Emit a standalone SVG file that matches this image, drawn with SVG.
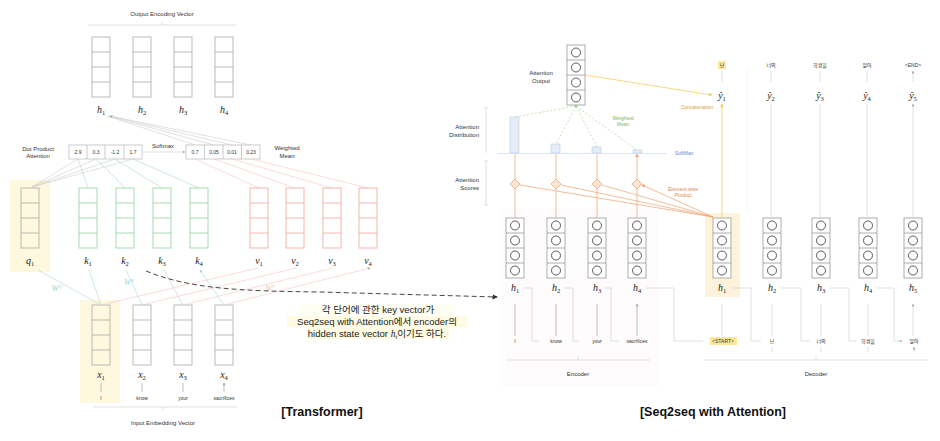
<svg xmlns="http://www.w3.org/2000/svg" xmlns:xlink="http://www.w3.org/1999/xlink" width="940" height="441" viewBox="0 0 940 441">
<style>
text{font-family:"Liberation Sans","Noto Sans CJK KR",sans-serif;fill:#333}
.s{font-size:6px}
.xs{font-size:5px}
.m{font-family:"Liberation Serif","DejaVu Serif",serif;font-style:italic;font-size:10px;fill:#222}
.sub{font-size:6.5px;font-style:normal}
.gray{stroke:#aaa;fill:none;stroke-width:0.8}
.green{stroke:#8fd19e;fill:none;stroke-width:0.8}
.red{stroke:#f2a49a;fill:none;stroke-width:0.8}
.ln{stroke:#ccc;stroke-width:0.6;fill:none}
.teal{stroke:#a9d9d4;stroke-width:0.6;fill:none}
.pink{stroke:#f5c6bf;stroke-width:0.6;fill:none}
.or{stroke:#f0a070;stroke-width:0.7;fill:none}
.yel{stroke:#f0d060;stroke-width:0.8;fill:none}
.gd{stroke:#9ccf8a;stroke-width:0.6;stroke-dasharray:2 2;fill:none}
.title{font-size:12.5px;font-weight:bold;fill:#111}
</style>
<defs>
<g id="vec"><rect x="0" y="0" width="18" height="60"/><path d="M0 15H18M0 30H18M0 45H18"/></g>
<g id="cvec"><rect x="0" y="0" width="18" height="60" stroke="#999" stroke-width="0.8" fill="#fff"/><path d="M0 15H18M0 30H18M0 45H18" stroke="#999" stroke-width="0.8"/><g stroke="#333" fill="none" stroke-width="0.8"><circle cx="9" cy="7.5" r="4.5"/><circle cx="9" cy="22.5" r="4.5"/><circle cx="9" cy="37.5" r="4.5"/><circle cx="9" cy="52.5" r="4.5"/></g></g>
<marker id="ag" viewBox="0 0 6 6" refX="5" refY="3" markerWidth="5" markerHeight="5" orient="auto"><path d="M0 0L6 3L0 6z" fill="#aaa"/></marker>
<marker id="at" viewBox="0 0 6 6" refX="5" refY="3" markerWidth="5" markerHeight="5" orient="auto"><path d="M0 0L6 3L0 6z" fill="#a9d9d4"/></marker>
<marker id="ao" viewBox="0 0 6 6" refX="5" refY="3" markerWidth="5" markerHeight="5" orient="auto"><path d="M0 0L6 3L0 6z" fill="#f0a070"/></marker>
<marker id="ay" viewBox="0 0 6 6" refX="5" refY="3" markerWidth="5" markerHeight="5" orient="auto"><path d="M0 0L6 3L0 6z" fill="#f0d060"/></marker>
<marker id="ad" viewBox="0 0 6 6" refX="5" refY="3" markerWidth="6" markerHeight="6" orient="auto"><path d="M0 0L6 3L0 6z" fill="#333"/></marker>
</defs>
<rect width="940" height="441" fill="#fff"/>

<!-- highlights / panels -->
<rect x="10" y="180" width="40" height="92" fill="#fdf8de"/>
<rect x="80" y="300" width="40" height="103" fill="#fdf8de"/>
<rect x="500" y="208" width="158" height="178" fill="#fdfbfb"/>
<rect x="705" y="213" width="35" height="84" fill="#fdf3da"/>
<rect x="300" y="304" width="156" height="11" fill="#fefdf2"/>
<rect x="287" y="316" width="180" height="11" fill="#fefbe2"/>
<rect x="307" y="328" width="142" height="11" fill="#fefbe2"/>

<!-- ============ Transformer ============ -->
<g id="output-encoding">
<text class="s" x="162" y="16" text-anchor="middle">Output Encoding Vector</text>
<path class="ln" d="M88 25H236M162 25V22"/>
<use href="#vec" class="gray" x="92" y="37"/>
<use href="#vec" class="gray" x="133" y="37"/>
<use href="#vec" class="gray" x="174" y="37"/>
<use href="#vec" class="gray" x="215" y="37"/>
<text class="m" x="101" y="113" text-anchor="middle">h<tspan class="sub" dy="2">1</tspan></text>
<text class="m" x="142" y="113" text-anchor="middle">h<tspan class="sub" dy="2">2</tspan></text>
<text class="m" x="183" y="113" text-anchor="middle">h<tspan class="sub" dy="2">3</tspan></text>
<text class="m" x="224" y="113" text-anchor="middle">h<tspan class="sub" dy="2">4</tspan></text>
</g>

<g id="scores">
<text class="s" x="38" y="151" text-anchor="middle">Dot Product</text>
<text class="s" x="38" y="158" text-anchor="middle">Attention</text>
<rect x="69" y="145" width="73" height="14" fill="#fff" stroke="#aaa" stroke-width="0.6"/>
<path d="M87 145V159M105 145V159M124 145V159" stroke="#aaa" stroke-width="0.6"/>
<text class="xs" x="78" y="154" text-anchor="middle">2.9</text>
<text class="xs" x="96" y="154" text-anchor="middle">0.3</text>
<text class="xs" x="115" y="154" text-anchor="middle">-1.2</text>
<text class="xs" x="133" y="154" text-anchor="middle">1.7</text>
</g>
<g id="softmax-label"><text class="s" x="163" y="148" text-anchor="middle">Softmax</text></g>
<g id="weighted">
<rect x="186" y="145" width="74" height="14" fill="#fff" stroke="#aaa" stroke-width="0.6"/>
<path d="M204.5 145V159M223 145V159M241.5 145V159" stroke="#aaa" stroke-width="0.6"/>
<text class="xs" x="195" y="154" text-anchor="middle">0.7</text>
<text class="xs" x="214" y="154" text-anchor="middle">0.05</text>
<text class="xs" x="232" y="154" text-anchor="middle">0.01</text>
<text class="xs" x="251" y="154" text-anchor="middle">0.23</text>
<text class="s" x="287" y="150" text-anchor="middle">Weighted</text>
<text class="s" x="287" y="158" text-anchor="middle">Mean</text>
</g>

<g id="q1"><use href="#vec" class="gray" x="21" y="188"/><text class="m" x="30" y="264" text-anchor="middle">q<tspan class="sub" dy="2">1</tspan></text></g>
<g id="k1"><use href="#vec" class="green" x="79" y="188"/><text class="m" x="88" y="264" text-anchor="middle">k<tspan class="sub" dy="2">1</tspan></text></g>
<g id="k2"><use href="#vec" class="green" x="116" y="188"/><text class="m" x="125" y="264" text-anchor="middle">k<tspan class="sub" dy="2">2</tspan></text></g>
<g id="k3"><use href="#vec" class="green" x="153" y="188"/><text class="m" x="162" y="264" text-anchor="middle">k<tspan class="sub" dy="2">3</tspan></text></g>
<g id="k4"><use href="#vec" class="green" x="190" y="188"/><text class="m" x="199" y="264" text-anchor="middle">k<tspan class="sub" dy="2">4</tspan></text></g>
<g id="v1"><use href="#vec" class="red" x="250" y="188"/><text class="m" x="259" y="264" text-anchor="middle">v<tspan class="sub" dy="2">1</tspan></text></g>
<g id="v2"><use href="#vec" class="red" x="286" y="188"/><text class="m" x="295" y="264" text-anchor="middle">v<tspan class="sub" dy="2">2</tspan></text></g>
<g id="v3"><use href="#vec" class="red" x="323" y="188"/><text class="m" x="332" y="264" text-anchor="middle">v<tspan class="sub" dy="2">3</tspan></text></g>
<g id="v4"><use href="#vec" class="red" x="359" y="188"/><text class="m" x="368" y="264" text-anchor="middle">v<tspan class="sub" dy="2">4</tspan></text></g>

<g id="x1"><use href="#vec" class="gray" x="92" y="305"/><text class="m" x="101" y="378" text-anchor="middle">x<tspan class="sub" dy="2">1</tspan></text><text class="xs" x="101" y="400" text-anchor="middle">I</text></g>
<g id="x2"><use href="#vec" class="gray" x="133" y="305"/><text class="m" x="142" y="378" text-anchor="middle">x<tspan class="sub" dy="2">2</tspan></text><text class="xs" x="142" y="400" text-anchor="middle">know</text></g>
<g id="x3"><use href="#vec" class="gray" x="174" y="305"/><text class="m" x="183" y="378" text-anchor="middle">x<tspan class="sub" dy="2">3</tspan></text><text class="xs" x="183" y="400" text-anchor="middle">your</text></g>
<g id="x4"><use href="#vec" class="gray" x="215" y="305"/><text class="m" x="224" y="378" text-anchor="middle">x<tspan class="sub" dy="2">4</tspan></text><text class="xs" x="224" y="400" text-anchor="middle">sacrifices</text></g>
<g id="input-label">
<path class="ln" d="M93 407H237M163 407V410"/>
<text class="s" x="163" y="425" text-anchor="middle">Input Embedding Vector</text>
</g>
<g id="w-labels">
<text class="m" x="57" y="291" text-anchor="middle" style="fill:#9fd0cb;font-size:8px">W<tspan font-size="5" dy="-3">Q</tspan></text>
<text class="m" x="129" y="285" text-anchor="middle" style="fill:#9fd0cb;font-size:8px">W<tspan font-size="5" dy="-3">K</tspan></text>
<text class="m" x="270" y="291" text-anchor="middle" style="fill:#f0bdb5;font-size:8px">W<tspan font-size="5" dy="-3">V</tspan></text>
</g>
<text class="title" x="322" y="416" text-anchor="middle">[Transformer]</text>

<!-- note -->
<g id="note">
<text x="378" y="313" text-anchor="middle" style="font-size:9.5px;fill:#222">각 단어에 관한 key vector가</text>
<text x="377" y="325" text-anchor="middle" style="font-size:9.5px;fill:#222">Seq2seq with Attention에서 encoder의</text>
<text x="377" y="337" text-anchor="middle" style="font-size:9.5px;fill:#222">hidden state vector <tspan font-family="Liberation Serif,serif" font-style="italic">h</tspan><tspan font-family="Liberation Serif,serif" font-style="italic" font-size="6.5" dy="2">t</tspan><tspan dy="-2">이기도 하다.</tspan></text>
</g>

<!-- ============ Seq2seq ============ -->
<g id="attn-output">
<use href="#cvec" x="567" y="45"/>
<text class="s" x="541" y="75" text-anchor="middle">Attention</text>
<text class="s" x="541" y="83" text-anchor="middle">Output</text>
</g>
<g id="axis-labels">
<path class="ln" d="M486 108V153M484 108H488M486 161V205M484 161H488M484 205H488"/>
<text class="s" x="479" y="129" text-anchor="end">Attention</text>
<text class="s" x="479" y="137" text-anchor="end">Distribution</text>
<text class="s" x="479" y="182" text-anchor="end">Attention</text>
<text class="s" x="479" y="190" text-anchor="end">Scores</text>
</g>
<g id="bars">
<path d="M497 153.5H667" stroke="#dde6f3" stroke-width="1"/>
<rect x="510" y="117" width="9" height="36" fill="#e6edf8" stroke="#b9cbe8" stroke-width="0.6"/>
<rect x="551" y="144" width="9" height="9" fill="#e6edf8" stroke="#b9cbe8" stroke-width="0.6"/>
<rect x="592" y="147" width="9" height="6" fill="#e6edf8" stroke="#b9cbe8" stroke-width="0.6"/>
<rect x="633" y="150" width="9" height="3" fill="#e6edf8" stroke="#b9cbe8" stroke-width="0.6"/>
<text class="xs" x="684" y="155" text-anchor="middle" style="fill:#5b8fd6">SoftMax</text>
</g>
<g id="diamonds" fill="#fde3d2" stroke="#f0a070" stroke-width="0.7">
<path d="M515 179L520 184L515 189L510 184z"/>
<path d="M556 179L561 184L556 189L551 184z"/>
<path d="M597 179L602 184L597 189L592 184z"/>
<path d="M637 179L642 184L637 189L632 184z"/>
</g>
<text class="xs" x="683" y="191" text-anchor="middle" style="fill:#e08a50">Element-wise</text>
<text class="xs" x="683" y="197" text-anchor="middle" style="fill:#e08a50">Product</text>
<text class="xs" x="623" y="120" text-anchor="middle" style="fill:#7cb86a">Weighted</text>
<text class="xs" x="623" y="126" text-anchor="middle" style="fill:#7cb86a">Mean</text>
<text class="xs" x="697" y="109" text-anchor="middle" style="fill:#e0a030">Concatenation</text>

<g id="enc-h1"><use href="#cvec" x="506" y="218"/><text class="m" x="515" y="291" text-anchor="middle">h<tspan class="sub" dy="2">1</tspan></text></g>
<g id="enc-h2"><use href="#cvec" x="547" y="218"/><text class="m" x="556" y="291" text-anchor="middle">h<tspan class="sub" dy="2">2</tspan></text></g>
<g id="enc-h3"><use href="#cvec" x="588" y="218"/><text class="m" x="597" y="291" text-anchor="middle">h<tspan class="sub" dy="2">3</tspan></text></g>
<g id="enc-h4"><use href="#cvec" x="628" y="218"/><text class="m" x="637" y="291" text-anchor="middle">h<tspan class="sub" dy="2">4</tspan></text></g>
<g id="enc-words">
<text class="xs" x="515" y="343" text-anchor="middle">I</text>
<text class="xs" x="556" y="343" text-anchor="middle">know</text>
<text class="xs" x="597" y="343" text-anchor="middle">your</text>
<text class="xs" x="637" y="343" text-anchor="middle">sacrifices</text>
<path class="ln" d="M506 360H650M578 360V357"/>
<text class="s" x="578" y="376" text-anchor="middle">Encoder</text>
</g>

<g id="dec-h1"><use href="#cvec" x="713" y="218"/><text class="m" x="722" y="291" text-anchor="middle">h<tspan class="sub" dy="2">1</tspan></text></g>
<g id="dec-h2"><use href="#cvec" x="763" y="218"/><text class="m" x="772" y="291" text-anchor="middle">h<tspan class="sub" dy="2">2</tspan></text></g>
<g id="dec-h3"><use href="#cvec" x="812" y="218"/><text class="m" x="821" y="291" text-anchor="middle">h<tspan class="sub" dy="2">3</tspan></text></g>
<g id="dec-h4"><use href="#cvec" x="859" y="218"/><text class="m" x="868" y="291" text-anchor="middle">h<tspan class="sub" dy="2">4</tspan></text></g>
<g id="dec-h5"><use href="#cvec" x="904" y="218"/><text class="m" x="913" y="291" text-anchor="middle">h<tspan class="sub" dy="2">5</tspan></text></g>
<g id="dec-words">
<rect x="710" y="337" width="27" height="8" fill="#fbe89a"/>
<text class="xs" x="723" y="343" text-anchor="middle">&lt;START&gt;</text>
<text class="xs" x="772" y="343" text-anchor="middle">난</text>
<text class="xs" x="821" y="343" text-anchor="middle">너의</text>
<text class="xs" x="868" y="343" text-anchor="middle">희생을</text>
<text class="xs" x="914" y="343" text-anchor="middle">알아</text>
<path class="ln" d="M704 360H928M816 360V357"/>
<text class="s" x="816" y="376" text-anchor="middle">Decoder</text>
</g>
<g id="outputs">
<rect x="718" y="61" width="8" height="8" fill="#fbe89a"/>
<text class="xs" x="722" y="67" text-anchor="middle">난</text>
<text class="xs" x="771" y="67" text-anchor="middle">너의</text>
<text class="xs" x="820" y="67" text-anchor="middle">희생을</text>
<text class="xs" x="867" y="67" text-anchor="middle">알아</text>
<text class="xs" x="913" y="67" text-anchor="middle">&lt;END&gt;</text>
<text class="m" x="722" y="99" text-anchor="middle">ŷ<tspan class="sub" dy="2">1</tspan></text>
<text class="m" x="771" y="99" text-anchor="middle">ŷ<tspan class="sub" dy="2">2</tspan></text>
<text class="m" x="820" y="99" text-anchor="middle">ŷ<tspan class="sub" dy="2">3</tspan></text>
<text class="m" x="867" y="99" text-anchor="middle">ŷ<tspan class="sub" dy="2">4</tspan></text>
<text class="m" x="913" y="99" text-anchor="middle">ŷ<tspan class="sub" dy="2">5</tspan></text>
</g>
<text class="title" x="713" y="416" text-anchor="middle">[Seq2seq with Attention]</text>

<!-- ============ Connectors ============ -->
<g id="connectors">
<path class="ln" d="M195 145L107 116M214 145L108 116M232 145L109 116M251 145L110 116" marker-end="url(#ag)"/>
<path class="ln" d="M142 152H185" marker-end="url(#ag)"/>
<path class="ln" d="M78 159L32 187M96 159L32 187M115 159L32 187M133 159L32 187"/>
<path class="teal" d="M78 159L88 188M96 159L125 188M115 159L162 188M133 159L199 188"/>
<path class="pink" d="M195 159L259 188M214 159L295 188M232 159L332 188M251 159L368 188"/>
<path class="teal" d="M101 305L38 270"/>
<path class="teal" d="M101 305L89 270M142 305L126 270M183 305L164 270M224 305L200 270" marker-end="url(#at)"/>
<path class="pink" d="M101 305L258 268M142 305L296 268M183 305L333 268M224 305L370 268" marker-end="url(#ag)"/>
<path d="M101 392V383M142 392V383M183 392V383M224 392V383" stroke="#999" stroke-width="0.6" marker-end="url(#ag)"/>
<path d="M146 271C190 289 240 291 320 292L497 297" stroke="#333" stroke-width="0.9" stroke-dasharray="5 3" fill="none" marker-end="url(#ad)"/>

<path class="gd" d="M576 106L515 117M576 106L556 144M576 106L597 147M576 106L637 150"/>
<circle cx="576" cy="106" r="1.6" fill="#9ccf8a"/>
<path class="yel" d="M585 75L712 95" marker-end="url(#ay)"/>
<path class="yel" d="M722 218V104" marker-end="url(#ay)"/>
<path class="ln" d="M771 218V104M820 218V104M867 218V104M913 218V104" marker-end="url(#ag)"/>
<path class="ln" d="M722 82V71M771 82V71M820 82V71M867 82V71M913 82V71" marker-end="url(#ag)"/>
<path d="M747 68V212" stroke="#eee" stroke-width="0.6"/>
<path class="or" d="M515 218V189M556 218V189M597 218V189M637 218V189"/>
<path class="or" d="M515 179V154M556 179V154M597 179V154M637 179V154" marker-end="url(#ao)"/>
<path class="or" d="M713 217L520 185M713 217L561 185M713 217L602 185M713 217L642 185" marker-end="url(#ao)"/>
<path d="M515 336V304M556 336V304M597 336V304M637 336V304" stroke="#999" stroke-width="0.6" marker-end="url(#ag)"/>
<path d="M722 336V304M772 336V304M821 336V304M868 336V304M913 336V304" stroke="#ccc" stroke-width="0.6" marker-end="url(#ag)"/>
<path class="ln" d="M523 288H532V341H539M564 288H573V341H579M605 288H611V341H619M646 288H674V341H703M732 288H751V341H761M781 288H801V341H810M830 288H849V341H856M877 288H894V341H902" marker-end="url(#ag)"/>
<path class="ln" d="M772 352V347M821 352V347M868 352V347M914 352V347" marker-end="url(#ag)"/>
</g>
</svg>
